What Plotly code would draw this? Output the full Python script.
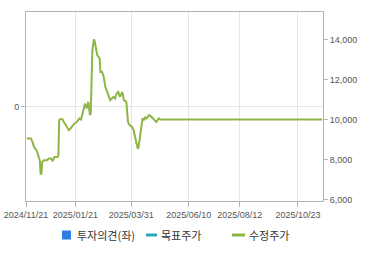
import plotly.graph_objects as go
from datetime import date, timedelta

start = date(2024, 11, 21)
day_offsets = [1, 6, 8, 10, 13, 15, 17, 18, 19, 20, 22, 26, 28, 31, 33, 35, 39, 40, 41, 42, 45, 47, 49,
               53, 55, 57, 59, 63, 66, 68, 70, 72, 73, 75, 77, 79, 80, 82, 84, 85, 87, 88, 91, 92, 94,
               96, 98, 100, 102, 104, 106, 108, 110, 112, 114, 116, 119, 121, 124, 125, 126, 128, 131,
               133, 135, 136, 138, 139, 141, 143, 144, 146, 147, 149, 152, 155, 157, 161, 164, 166, 200,
               250, 300, 340, 366]
prices = [9055, 9055, 8885, 8620, 8470, 8220, 7970, 7300, 7300, 7885, 7970, 7970, 8055, 8055, 7920,
          8135, 8135, 8200, 9970, 10020, 10020, 9860, 9720, 9470, 9550, 9635, 9770, 9885, 10055, 10000,
          10300, 10635, 10800, 10550, 10885, 10220, 10300, 13470, 14000, 13900, 13555, 13220, 13055,
          12370, 12385, 12135, 11635, 11385, 11110, 10970, 11050, 11135, 11050, 11305, 11385, 11135,
          11385, 10970, 10885, 10470, 9885, 9720, 9635, 9470, 9055, 8900, 8555, 8600, 9305, 9805,
          10055, 9970, 10135, 10055, 10220, 10135, 10055, 9885, 10055, 10000, 10000, 10000, 10000,
          10000, 10000]
dates = [(start + timedelta(days=d)).isoformat() for d in day_offsets]

tick_dates = ["2024-11-21", "2025-01-21", "2025-03-31", "2025-06-10", "2025-08-12", "2025-10-23"]
tick_text = ["2024/11/21", "2025/01/21", "2025/03/31", "2025/06/10", "2025/08/12", "2025/10/23"]
price_ticks = [6000, 8000, 10000, 12000, 14000]
legend_names = ["투자의견(좌)", "목표주가", "수정주가"]

GREEN = "#8db646"
TEAL = "#2ba8b8"
BLUE = "#2f7fe0"
AXIS = "#b4b4b4"
GRID = "#e6e6e6"
TXT = "#555555"
LTXT = "#333333"
FONT = "Liberation Sans, Arial, sans-serif"
KFONT = "Noto Sans CJK KR, sans-serif"
FS = 9

W, H = 370, 255
L, R, T, B = 26, 47, 12, 54
pw, ph = W - L - R, H - T - B


def px(x):
    return (x - L) / pw


def py(y):
    return (H - B - y) / ph


fig = go.Figure()
fig.add_trace(go.Bar(x=[None], y=[None], name=legend_names[0], marker_color=BLUE, yaxis="y",
                     showlegend=False))
fig.add_trace(go.Scatter(x=[None], y=[None], name=legend_names[1], mode="lines",
                         line=dict(color=TEAL, width=3), yaxis="y2", showlegend=False))
fig.add_trace(go.Scatter(x=dates, y=prices, name=legend_names[2], mode="lines",
                         line=dict(color=GREEN, width=2), yaxis="y2", showlegend=False))

# legend drawn as shapes + text
ly = 235
shapes = [
    dict(type="rect", xref="paper", yref="paper", x0=px(62), x1=px(71), y0=py(ly - 4.5),
         y1=py(ly + 4.5), fillcolor=BLUE, line=dict(width=0)),
    dict(type="line", xref="paper", yref="paper", x0=px(146), x1=px(157), y0=py(ly), y1=py(ly),
         line=dict(color=TEAL, width=3)),
    dict(type="line", xref="paper", yref="paper", x0=px(232), x1=px(245), y0=py(ly), y1=py(ly),
         line=dict(color=GREEN, width=3)),
]
annotations = []
for name, xs in zip(legend_names, [75, 159, 247]):
    annotations.append(dict(text=name, xref="paper", yref="paper", x=px(xs), y=py(ly),
                            xanchor="left", yanchor="middle", showarrow=False,
                            font=dict(family=KFONT, size=11, color=LTXT)))

fig.update_layout(
    width=W, height=H,
    margin=dict(l=L, r=R, t=T, b=B),
    paper_bgcolor="white", plot_bgcolor="white",
    font=dict(family=FONT, size=FS, color=TXT),
    showlegend=False,
    shapes=shapes, annotations=annotations,
    xaxis=dict(type="date", range=["2024-11-21", "2025-11-23"], tickvals=tick_dates,
               ticktext=tick_text, tickangle=0, automargin=False, ticklabeloverflow="allow",
               showgrid=True, gridcolor=GRID,
               showline=True, linecolor=AXIS, mirror=True, ticks="outside", ticklen=5,
               tickcolor=AXIS, zeroline=False, tickfont=dict(size=FS, color=TXT)),
    yaxis=dict(range=[-1, 1], tickvals=[0], ticktext=["0"], showgrid=True, gridcolor=GRID,
               automargin=False, zeroline=False, showline=True, linecolor=AXIS, ticks="outside",
               ticklen=4, tickcolor=AXIS, tickfont=dict(size=FS, color=TXT)),
    yaxis2=dict(overlaying="y", side="right", range=[5935, 15370], tickvals=price_ticks,
                tickformat=",", automargin=False, showgrid=False, zeroline=False, showline=True,
                linecolor=AXIS, ticks="outside", ticklen=4, tickcolor=AXIS,
                tickfont=dict(size=FS, color=TXT)),
)

fig.write_html("out.html")
